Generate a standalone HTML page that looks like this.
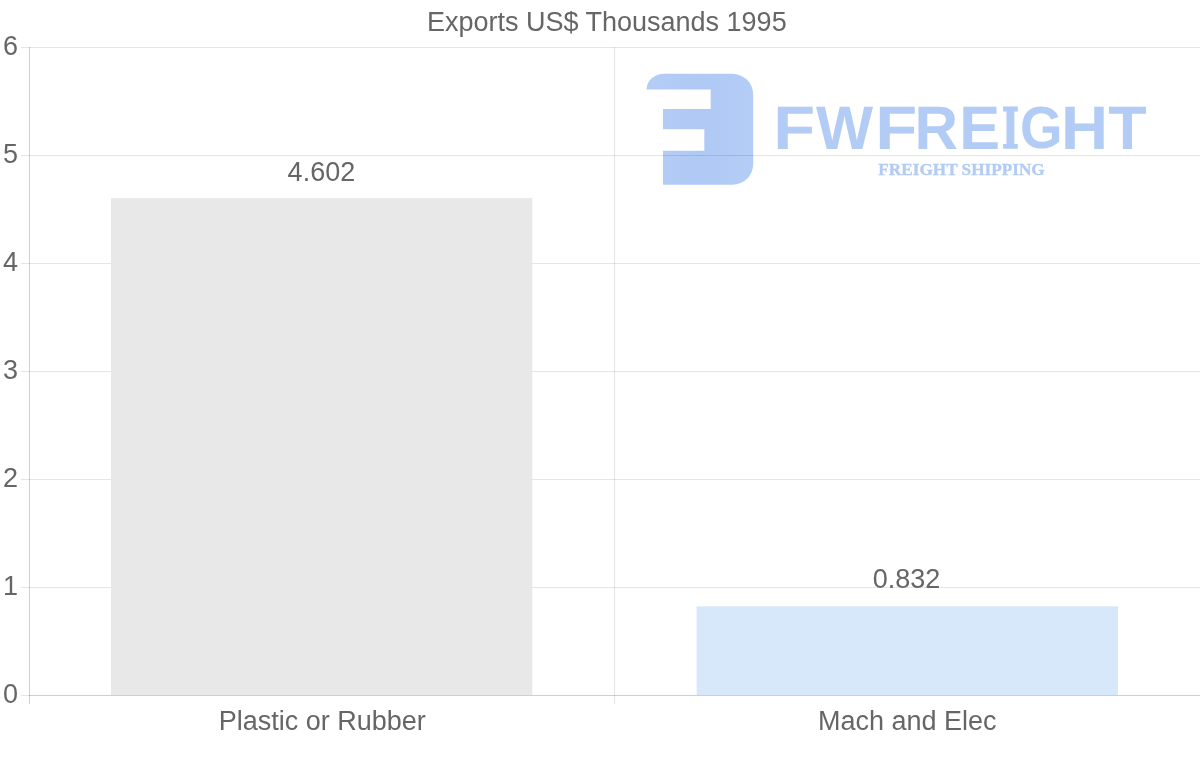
<!DOCTYPE html>
<html><head><meta charset="utf-8"><title>Exports US$ Thousands 1995</title>
<style>
html,body{margin:0;padding:0;background:#fff;}
body{width:1200px;height:763px;overflow:hidden;position:relative;font-family:"Liberation Sans",Arial,sans-serif;}
svg{position:absolute;left:0;top:0;display:block}
text{font-family:"Liberation Sans",Arial,sans-serif;fill:#666;}
#logo text{fill:#b2ccf5;}
</style></head><body>
<svg width="1200" height="763" viewBox="0 0 1200 763">
<!-- watermark logo -->
<defs><linearGradient id="lg" gradientUnits="userSpaceOnUse" x1="646" y1="0" x2="754" y2="0"><stop offset="0" stop-color="#b5cef6"/><stop offset="0.5" stop-color="#aec9f4"/><stop offset="0.75" stop-color="#b1cbf5"/><stop offset="1" stop-color="#b3cdf6"/></linearGradient></defs>
<g id="logo" fill="#b2ccf5">
<path fill="url(#lg)" d="M646.5 89.4 A17.6 15.6 0 0 1 664.1 73.8 H732.5 A20.7 20.7 0 0 1 753.2 94.5 V164 A20.7 20.7 0 0 1 732.5 184.7 H663 V150.8 H704.3 V129.3 H663 V109.1 H710.7 V89.4 Z"/>
<text font-weight="bold" text-rendering="geometricPrecision" style="font-family:'Liberation Sans',Arial,sans-serif"><tspan x="773.21" y="148.80" font-size="61.34" textLength="41.90" lengthAdjust="spacingAndGlyphs">F</tspan><tspan x="815.94" y="148.80" font-size="61.34" textLength="57.12" lengthAdjust="spacingAndGlyphs">W</tspan><tspan x="875.20" y="148.80" font-size="61.34" textLength="42.02" lengthAdjust="spacingAndGlyphs">F</tspan><tspan x="914.56" y="148.80" font-size="61.34" textLength="43.57" lengthAdjust="spacingAndGlyphs">R</tspan><tspan x="959.21" y="148.80" font-size="61.34" textLength="40.78" lengthAdjust="spacingAndGlyphs">E</tspan><tspan x="1002.01" y="148.00" font-size="55.69" textLength="16.84" lengthAdjust="spacingAndGlyphs" stroke="#b2ccf5" stroke-width="1.6" style="font-family:'DejaVu Serif','Liberation Serif',serif">I</tspan><tspan x="1019.96" y="148.22" font-size="59.60" textLength="42.53" lengthAdjust="spacingAndGlyphs">G</tspan><tspan x="1061.04" y="148.80" font-size="61.34" textLength="47.05" lengthAdjust="spacingAndGlyphs">H</tspan><tspan x="1108.19" y="148.80" font-size="61.34" textLength="38.38" lengthAdjust="spacingAndGlyphs">T</tspan></text>
<text x="961.5" y="174.7" font-size="17.2" font-weight="bold" text-anchor="middle" stroke="#b2ccf5" stroke-width="0.35" style="font-family:'Liberation Serif','Times New Roman',serif">FREIGHT SHIPPING</text>
</g>
<!-- gridlines -->
<g stroke="#000" stroke-opacity="0.1" stroke-width="1" shape-rendering="crispEdges">
<line x1="21" x2="1200" y1="47.5" y2="47.5"/>
<line x1="21" x2="1200" y1="155.5" y2="155.5"/>
<line x1="21" x2="1200" y1="263.5" y2="263.5"/>
<line x1="21" x2="1200" y1="371.5" y2="371.5"/>
<line x1="21" x2="1200" y1="479.5" y2="479.5"/>
<line x1="21" x2="1200" y1="587.5" y2="587.5"/>
<line x1="21" x2="29" y1="695.5" y2="695.5"/>
<line x1="614.5" x2="614.5" y1="47" y2="704"/>
</g>
<g stroke="#000" stroke-width="1" shape-rendering="crispEdges">
<line x1="29.5" x2="29.5" y1="47" y2="704" stroke-opacity="0.19"/>
<line x1="29" x2="1200" y1="695.5" y2="695.5" stroke-opacity="0.19"/>
</g>
<!-- bars -->
<rect x="111" y="198.1" width="421.3" height="496.9" fill="#e8e8e8"/>
<rect x="696.6" y="606.3" width="421.4" height="88.7" fill="#d7e8fa"/>
<!-- text -->
<text x="606.8" y="30.5" font-size="27" text-anchor="middle">Exports US$ Thousands 1995</text>
<g font-size="27" text-anchor="end">
<text x="18.1" y="54.6">6</text>
<text x="18.1" y="162.6">5</text>
<text x="18.1" y="270.6">4</text>
<text x="18.1" y="378.6">3</text>
<text x="18.1" y="486.6">2</text>
<text x="18.1" y="594.6">1</text>
<text x="18.1" y="702.6">0</text>
</g>
<g font-size="27" text-anchor="middle">
<text x="321.4" y="180.8">4.602</text>
<text x="906.5" y="587.9">0.832</text>
<text x="322.2" y="730">Plastic or Rubber</text>
<text x="907.3" y="730">Mach and Elec</text>
</g>
</svg>
</body></html>
